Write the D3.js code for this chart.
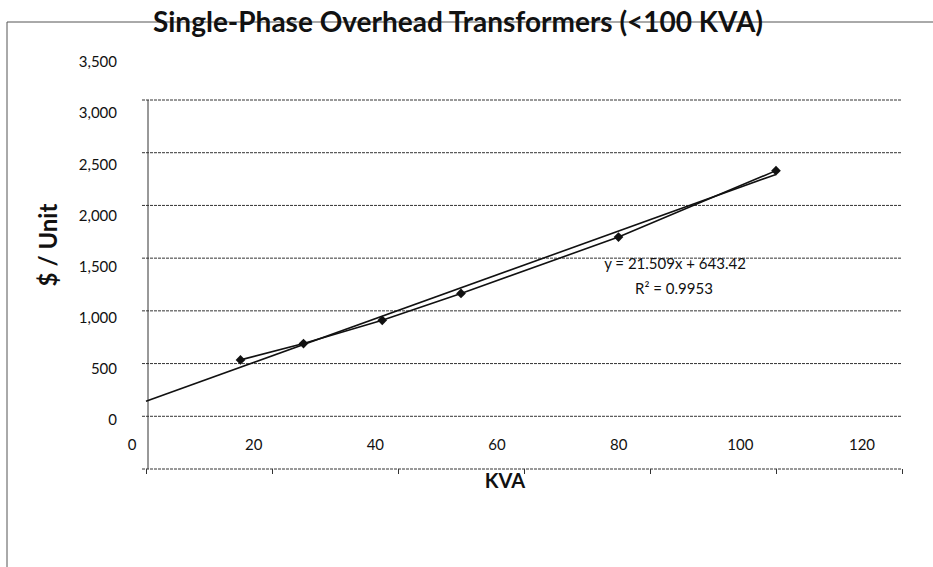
<!DOCTYPE html>
<html>
<head>
<meta charset="utf-8">
<script src="https://cdn.jsdelivr.net/npm/d3@7"></script>
<style>
  html, body { margin: 0; padding: 0; background: #fff; }
  svg { display: block; }
  text { font-family: Lato, "Open Sans", "Noto Sans", sans-serif; fill: #111; }
</style>
</head>
<body>
<svg id="chart" width="933" height="567"></svg>
<script>
// ---- data ----
const kva = [15, 25, 37.5, 50, 75, 100];
const cost = [1035, 1190, 1410, 1665, 2200, 2830];
const xTicks = [0, 20, 40, 60, 80, 100, 120];
const yTicks = [0, 500, 1000, 1500, 2000, 2500, 3000, 3500];
const trendSlope = 21.509;
const trendIntercept = 643.42;
const trendRange = [0, 100];
const titleText = "Single-Phase Overhead Transformers (<100 KVA)";
const xTitle = "KVA";
const yTitle = "$ / Unit";
const eqText = "y = 21.509x + 643.42";
const r2Text = "R² = 0.9953";

const svg = d3.select("#chart");

// scales (plot area) and the offset label scales seen in the scanned chart
const x = d3.scaleLinear().domain([0, 120]).range([146, 902]);
const y = d3.scaleLinear().domain([0, 3500]).range([469, 100]);
const xLab = d3.scaleLinear().domain([0, 120]).range([132, 862]);
const yLab = d3.scaleLinear().domain([0, 3500]).range([420, 62]);

// outer chart border (top and left)
svg.append("line").attr("x1", 7).attr("x2", 933).attr("y1", 22).attr("y2", 22)
  .attr("stroke", "#555").attr("stroke-width", 1);
svg.append("line").attr("x1", 7).attr("x2", 7).attr("y1", 22).attr("y2", 567)
  .attr("stroke", "#555").attr("stroke-width", 1);

// gridlines
const grid = svg.append("g");
grid.selectAll("line").data(yTicks).join("line")
  .attr("x1", x(0) - 4).attr("x2", x(120))
  .attr("y1", d => y(d)).attr("y2", d => y(d))
  .attr("stroke", "#333").attr("stroke-width", 1).attr("stroke-dasharray", "3,1");

// vertical axis line
svg.append("line").attr("x1", x(0) + 2).attr("x2", x(0) + 2).attr("y1", y(3500)).attr("y2", y(0))
  .attr("stroke", "#333").attr("stroke-width", 1);

// x axis tick marks
const xAxis = d3.axisBottom(x).tickValues(xTicks).tickSize(5).tickFormat("");
const gx = svg.append("g").attr("transform", `translate(0,${y(0)})`).call(xAxis);
gx.select(".domain").remove();
gx.selectAll(".tick line").attr("stroke", "#333");

// y tick labels
svg.append("g").selectAll("text").data(yTicks).join("text")
  .attr("x", 117).attr("y", d => yLab(d)).attr("dy", "0.35em")
  .attr("text-anchor", "end").attr("font-size", 15)
  .text(d => d3.format(",")(d));

// x tick labels
svg.append("g").selectAll("text").data(xTicks).join("text")
  .attr("x", d => xLab(d)).attr("y", 445).attr("dy", "0.35em")
  .attr("text-anchor", "middle").attr("font-size", 15)
  .text(d => d);

// title (border line runs through it as in the scan)
svg.append("text").attr("x", 458).attr("y", 32).attr("text-anchor", "middle")
  .attr("font-size", 28).attr("font-weight", "bold").text(titleText);

// axis titles
svg.append("text").attr("x", 505).attr("y", 488).attr("text-anchor", "middle")
  .attr("font-size", 20).attr("font-weight", "bold").text(xTitle);
svg.append("text").attr("transform", "translate(57,245) rotate(-90)")
  .attr("text-anchor", "middle").attr("font-size", 24).attr("font-weight", "bold").text(yTitle);

// data series line
const pts = kva.map((k, i) => [k, cost[i]]);
svg.append("path").datum(pts)
  .attr("fill", "none").attr("stroke", "#111").attr("stroke-width", 1.6)
  .attr("d", d3.line().x(d => x(d[0])).y(d => y(d[1])));

// linear trendline
const trendPts = trendRange.map(k => [k, trendSlope * k + trendIntercept]);
svg.append("path").datum(trendPts)
  .attr("fill", "none").attr("stroke", "#111").attr("stroke-width", 1.6)
  .attr("d", d3.line().x(d => x(d[0])).y(d => y(d[1])));

// diamond markers
svg.append("g").selectAll("path").data(pts).join("path")
  .attr("transform", d => `translate(${x(d[0])},${y(d[1])})`)
  .attr("d", d3.symbol().type(d3.symbolDiamond2).size(60))
  .attr("fill", "#111");

// equation labels
svg.append("text").attr("x", 675).attr("y", 264).attr("dy", "0.35em")
  .attr("text-anchor", "middle").attr("font-size", 15).text(eqText);
svg.append("text").attr("x", 674).attr("y", 289).attr("dy", "0.35em")
  .attr("text-anchor", "middle").attr("font-size", 15).text(r2Text);
</script>
</body>
</html>
